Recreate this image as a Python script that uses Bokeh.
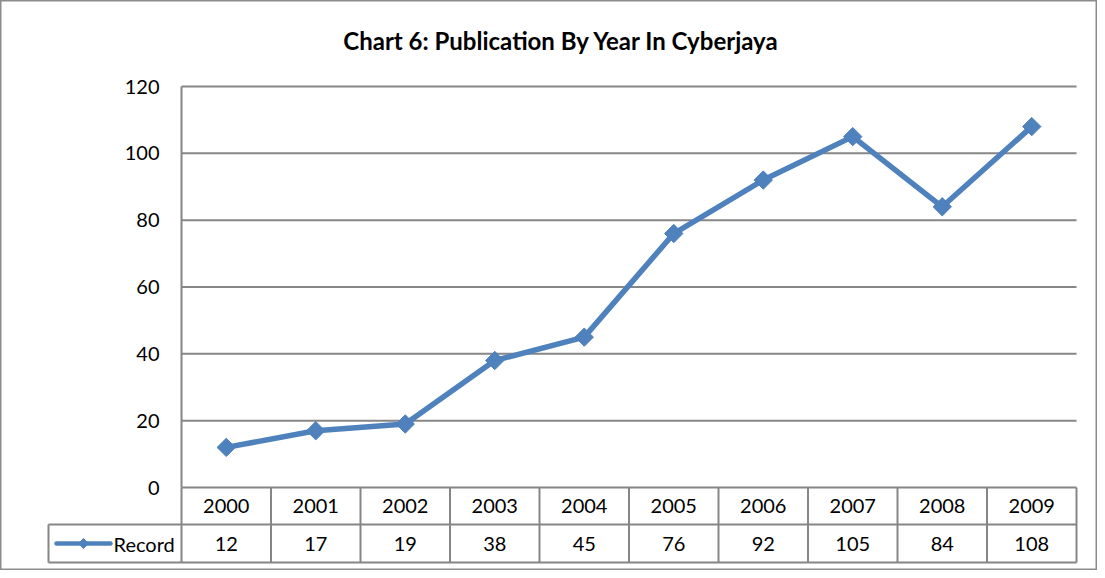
import math
from bokeh.plotting import figure
from bokeh.models import Range1d, ColumnDataSource
from bokeh.core.properties import value
from bokeh.embed import file_html
from bokeh.resources import INLINE

title_text = "Chart 6: Publication By Year In Cyberjaya"
years = ["2000", "2001", "2002", "2003", "2004", "2005", "2006", "2007", "2008", "2009"]
records = [12, 17, 19, 38, 45, 76, 92, 105, 84, 108]
y_ticks = [0, 20, 40, 60, 80, 100, 120]
series_name = "Record"

# ---- layout geometry (pixels on canvas) ----
W, H = 1097, 570
plot_left, plot_right = 181, 1076
plot_top, plot_bottom = 86, 487
table_left = 48
row1_bottom = 524
row2_bottom = 562
ymax = 120

cw = (plot_right - plot_left) / len(years)
vpx = (plot_bottom - plot_top) / ymax


def ux(px):
    return (px - plot_left) / cw


def vy(py):
    return (plot_bottom - py) / vpx


p = figure(width=W, height=H, output_backend="svg", toolbar_location=None,
           x_range=Range1d(ux(0), ux(W)), y_range=Range1d(vy(H), vy(0)),
           min_border=0, x_axis_location=None, y_axis_location=None)
p.grid.visible = False
p.outline_line_color = "#8c8c8c"
p.outline_line_width = 2
p.background_fill_color = "white"
p.border_fill_color = "white"

grid_col = "#868686"
font = value("Lato")
fs = "20px"

gl = [t for t in y_ticks if t > 0]
p.segment(x0=[0] * len(gl), x1=[len(years)] * len(gl), y0=gl, y1=gl,
          line_color=grid_col, line_width=2)
p.segment(x0=[0], x1=[0], y0=[0], y1=[ymax], line_color=grid_col, line_width=2)

n = len(years)
y_r1 = vy(row1_bottom)
y_r2 = vy(row2_bottom)
x_tl = ux(table_left)
p.segment(x0=[0, x_tl, x_tl], x1=[n, n, n], y0=[0, y_r1, y_r2], y1=[0, y_r1, y_r2],
          line_color=grid_col, line_width=2)
p.segment(x0=list(range(n + 1)), x1=list(range(n + 1)),
          y0=[0] * (n + 1), y1=[y_r2] * (n + 1), line_color=grid_col, line_width=2)
p.segment(x0=[x_tl], x1=[x_tl], y0=[y_r1], y1=[y_r2], line_color=grid_col, line_width=2)

xc = [i + 0.5 for i in range(n)]
src = ColumnDataSource(dict(x=xc, y=records, year=years,
                            rec=[str(r) for r in records]))

p.text(x="x", y=(0 + y_r1) / 2, text="year", source=src, text_font=font,
       text_font_size=fs, text_align="center", text_baseline="middle", text_color="black")
p.text(x="x", y=(y_r1 + y_r2) / 2, text="rec", source=src, text_font=font,
       text_font_size=fs, text_align="center", text_baseline="middle", text_color="black")

p.text(x=[ux(159)] * len(y_ticks), y=y_ticks, text=[str(t) for t in y_ticks],
       text_font=font, text_font_size=fs, text_align="right", text_baseline="middle",
       text_color="black")

blue = "#4F81BD"
p.line(x="x", y="y", source=src, line_color=blue, line_width=5.5, line_join="round")
p.scatter(x="x", y="y", source=src, marker="square", angle=math.pi / 4, size=13,
          fill_color=blue, line_color=blue, line_width=1)

ymid2 = (y_r1 + y_r2) / 2
p.line(x=[ux(56), ux(110)], y=[ymid2, ymid2], line_color=blue,
       line_width=4.5, line_cap="round")
p.scatter(x=[ux(83)], y=[ymid2], marker="square", angle=math.pi / 4, size=7,
          fill_color=blue, line_color=blue)
p.text(x=[ux(113)], y=[ymid2], text=[series_name], text_font=font,
       text_font_size=fs, text_align="left", text_baseline="middle", text_color="black")

p.text(x=[ux(561)], y=[vy(40)], text=[title_text], text_font=font,
       text_font_size="24px", text_font_style="bold", text_align="center",
       text_baseline="middle", text_color="black")

open("out.html", "w").write(file_html(p, INLINE))
